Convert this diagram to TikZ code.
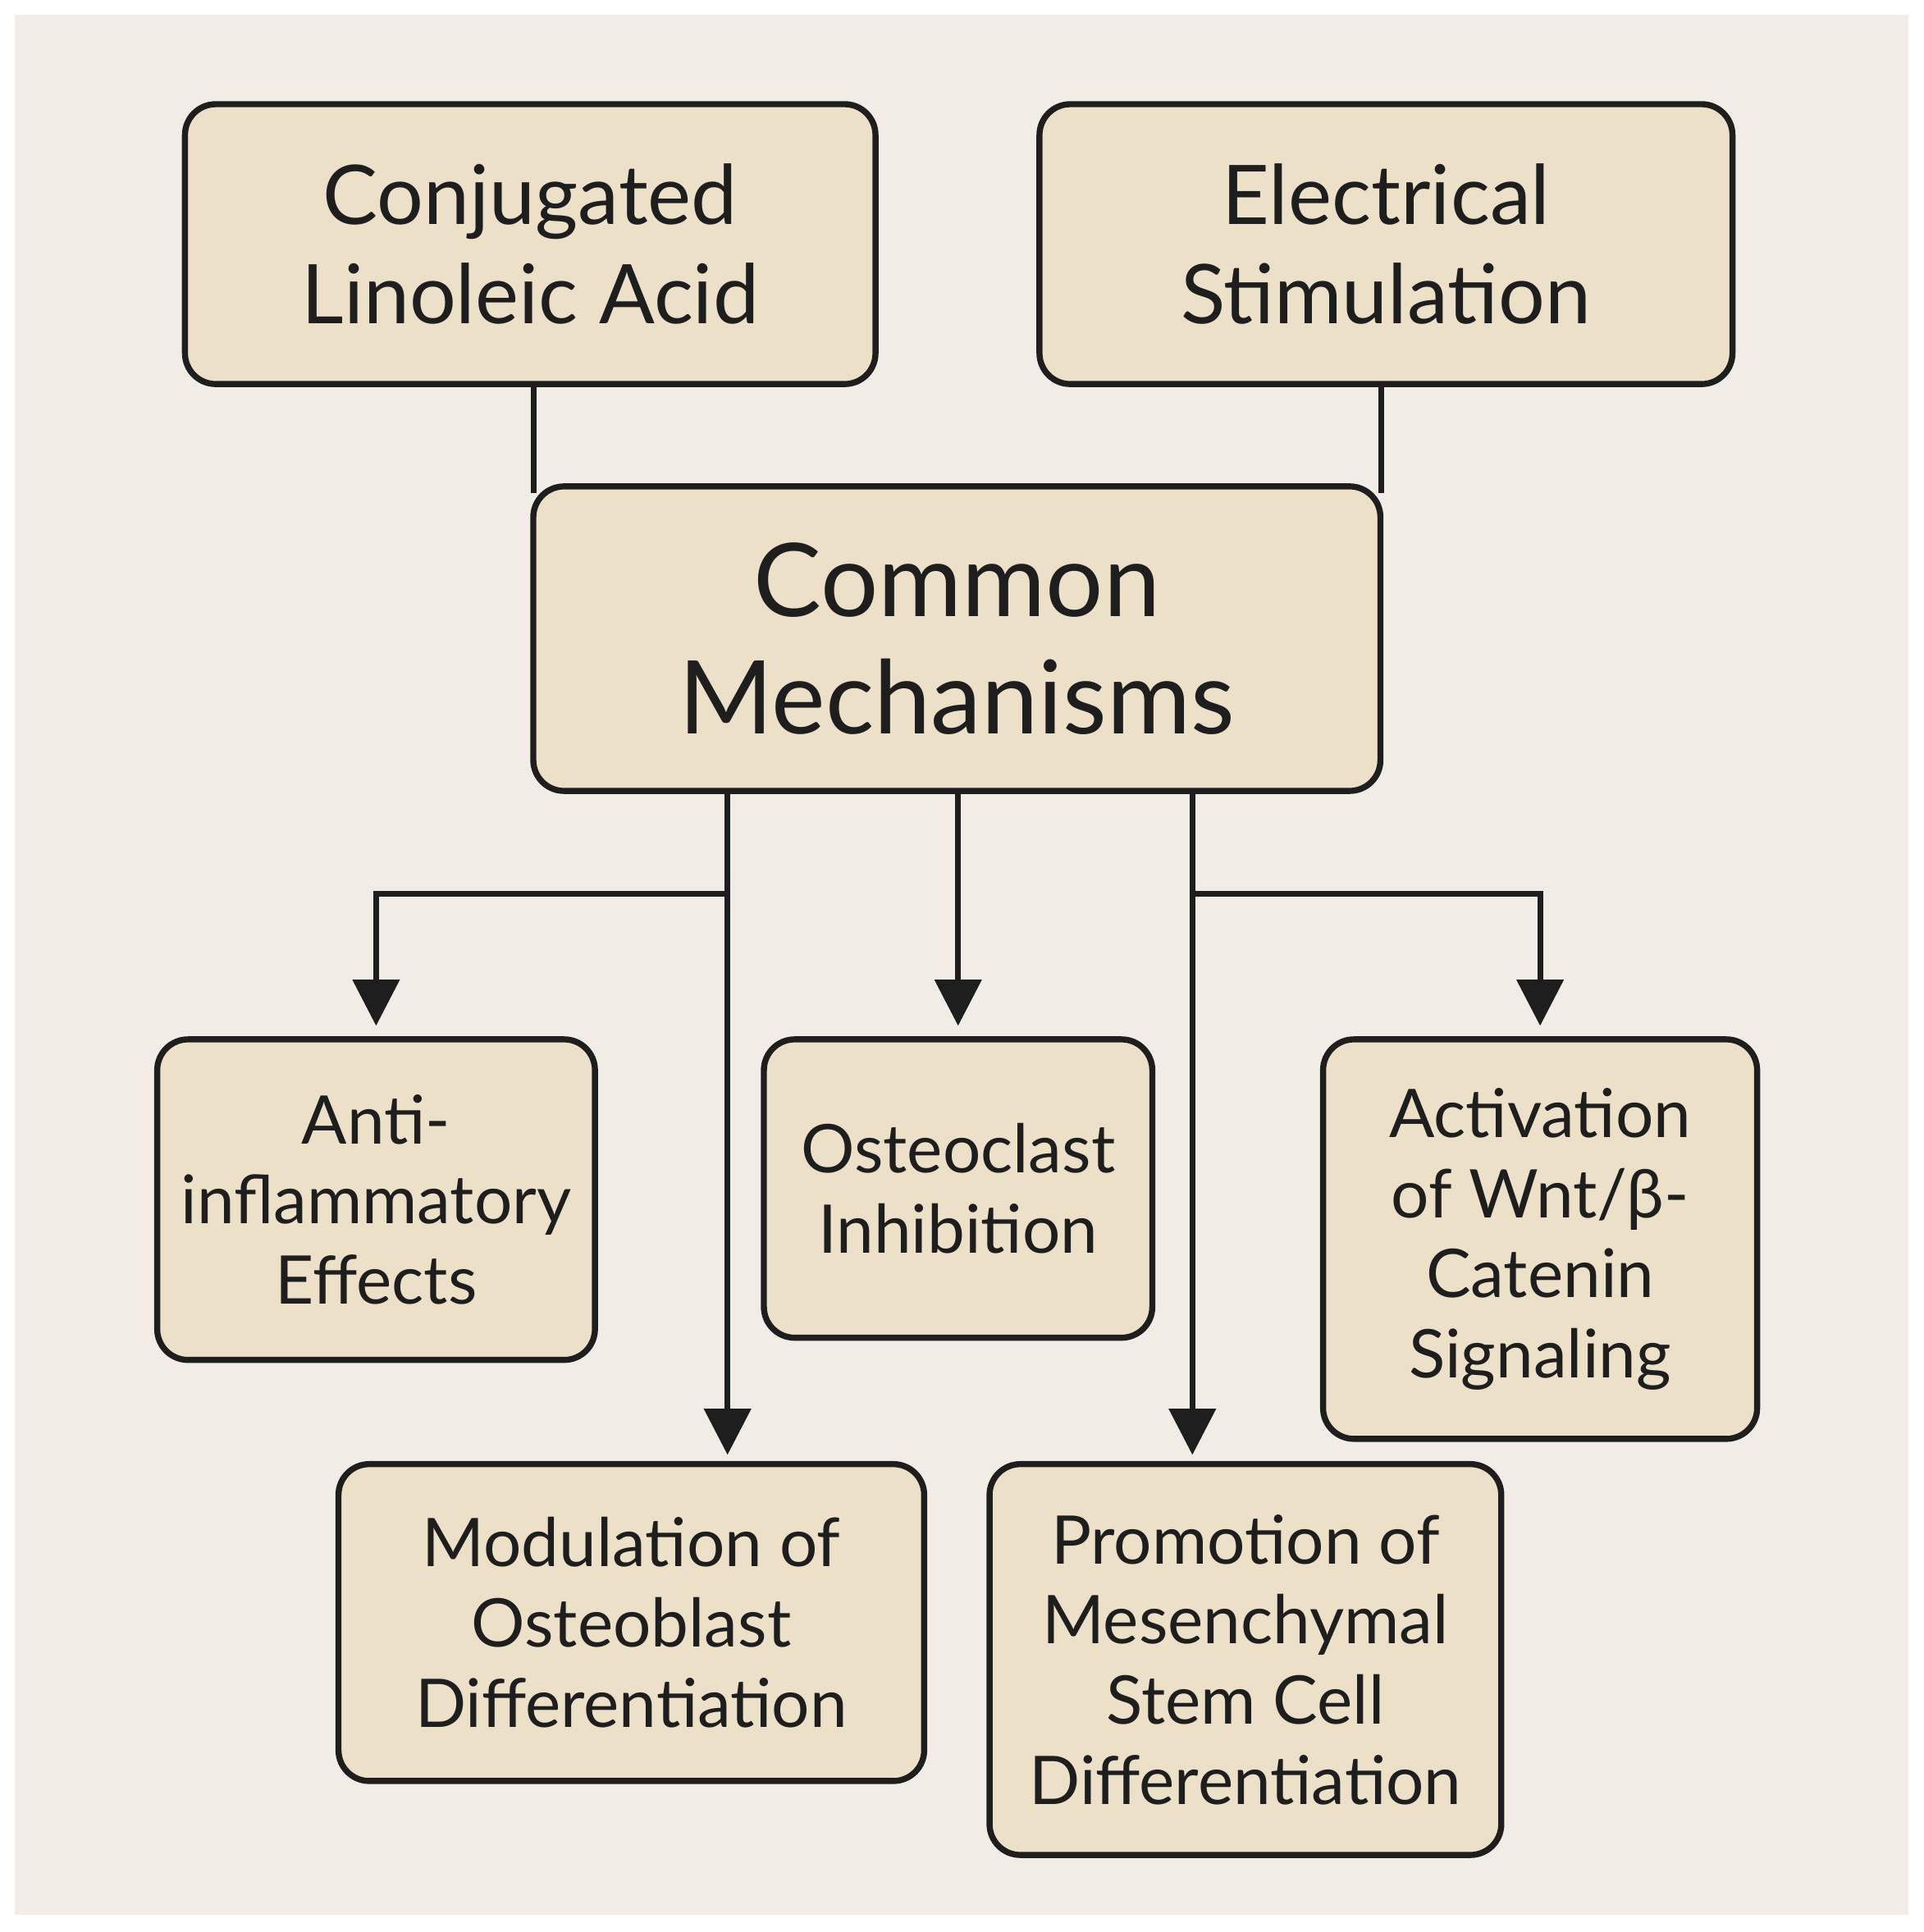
\documentclass[tikz,border=0pt]{standalone}
\usepackage{fontspec}
\setmainfont{Lato}
\usetikzlibrary{arrows.meta}
\definecolor{bg}{HTML}{F1EDE6}
\definecolor{boxf}{HTML}{EDE0C9}
\definecolor{ink}{HTML}{1E1E1E}
\begin{document}
\begin{tikzpicture}[x=0.02cm,y=-0.02cm,
 box/.style={draw=ink,fill=boxf,line width=2.8pt,rounded corners=0.5cm,align=center,text=ink,inner sep=0pt},
 big/.style={font=\fontsize{38}{46}\selectfont},
 huge/.style={font=\fontsize{47}{54}\selectfont},
 small/.style={font=\fontsize{31}{37}\selectfont},
 ln/.style={draw=ink,line width=2.6pt},
 ar/.style={ln,-{Triangle[length=0.75cm,width=0.75cm]}}]
\useasboundingbox (0,0) rectangle (1560,1567);
\fill[white] (0,0) rectangle (1560,1567);
\fill[bg] (12,12) rectangle (1548,1553);
\node[box,big,minimum width=560*0.02cm,minimum height=227*0.02cm] (cla) at (430,198) {Conjugated\\Linoleic Acid};
\node[box,big,minimum width=562*0.02cm,minimum height=227*0.02cm] (es) at (1124,198) {Electrical\\Stimulation};
\coordinate (ca) at (433,312); \coordinate (ea) at (1120,312);
\draw[ln] (ca) -- (433,400);
\draw[ln] (ea) -- (1120,400);
\node[box,huge,minimum width=687*0.02cm,minimum height=247*0.02cm] (cm) at (776,518) {Common\\Mechanisms};
\node[box,small,minimum width=355*0.02cm,minimum height=260*0.02cm] (anti) at (305,973) {Anti-\\inflammatory\\Effects};
\node[box,small,minimum width=315*0.02cm,minimum height=242*0.02cm] (ost) at (777,964) {Osteoclast\\Inhibition};
\node[box,small,minimum width=352*0.02cm,minimum height=324*0.02cm] (wnt) at (1249,1005) {Activation\\of Wnt/β-\\Catenin\\Signaling};
\node[box,small,minimum width=475*0.02cm,minimum height=257*0.02cm] (mod) at (512,1316) {Modulation of\\Osteoblast\\Differentiation};
\node[box,small,minimum width=415*0.02cm,minimum height=317*0.02cm] (pro) at (1010,1346) {Promotion of\\Mesenchymal\\Stem Cell\\Differentiation};
\coordinate (a1) at (590,642); \coordinate (a2) at (777,642); \coordinate (a3) at (967,642);
\draw[ar] (a1) -- (590,1180);
\draw[ar] (a2) -- (777,832);
\draw[ar] (a3) -- (967,1180);
\draw[ar] (590,725) -- (305,725) -- (305,832);
\draw[ar] (967,725) -- (1249,725) -- (1249,832);
\end{tikzpicture}
\end{document}
